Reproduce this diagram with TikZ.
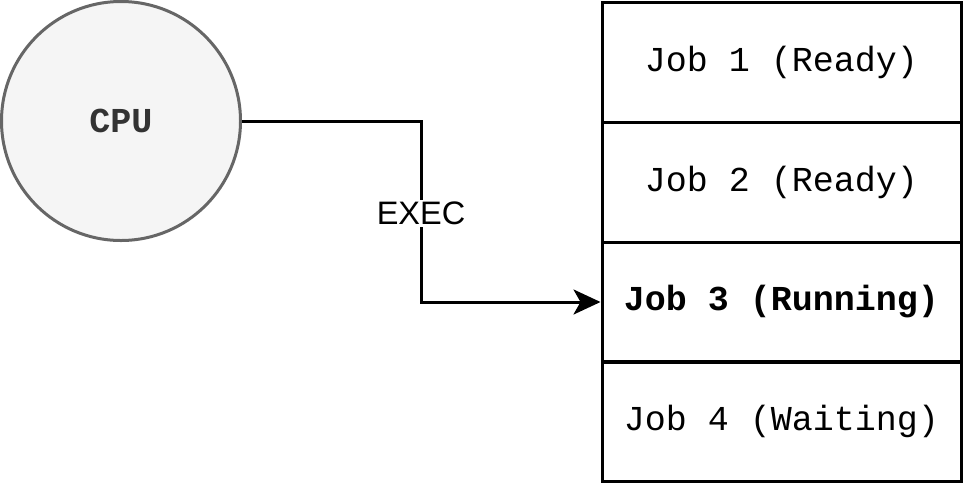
\documentclass[tikz,border=0pt]{standalone}
\usepackage{fontspec}
\setmainfont{Liberation Sans}
\setsansfont{Liberation Sans}
\setmonofont{Liberation Mono}
\usetikzlibrary{arrows.meta}
\definecolor{cpufill}{HTML}{F5F5F5}
\definecolor{cpustroke}{HTML}{666666}
\definecolor{cputext}{HTML}{333333}
\tikzset{
  jobbox/.style={draw=black, line width=3pt, minimum width=359pt, minimum height=120pt, inner sep=0pt, font=\fontsize{35}{40}\selectfont\ttfamily, text=black},
  cpunode/.style={circle, draw=cpustroke, fill=cpufill, line width=3pt, minimum size=239pt, inner sep=0pt, font=\fontsize{35}{40}\selectfont\ttfamily\bfseries, text=cputext},
  conn/.style={line width=3pt, draw=black},
  lbl/.style={fill=white, font=\fontsize{32.5}{36}\selectfont\sffamily, inner sep=2pt, text=black}
}
\begin{document}
\begin{tikzpicture}[x=1pt,y=-1pt]
\useasboundingbox (0,0) rectangle (963,483);
\node[cpunode] (cpu) at (121,121) {CPU};
\node[jobbox] (j1) at (781.5,62) {Job 1 (Ready)};
\node[jobbox] (j2) at (781.5,182) {Job 2 (Ready)};
\node[jobbox] (j3) at (781.5,302) {\bfseries Job 3 (Running)};
\node[jobbox] (j4) at (781.5,421.5) {Job 4 (Waiting)};
\coordinate (bend) at (421,121);
\draw[conn, -{Stealth[length=27pt,width=25pt,inset=7pt]}] (cpu.east) -- (bend) |- (j3.west);
\node[lbl] (exec) at (421,213) {EXEC};
\end{tikzpicture}
\end{document}
